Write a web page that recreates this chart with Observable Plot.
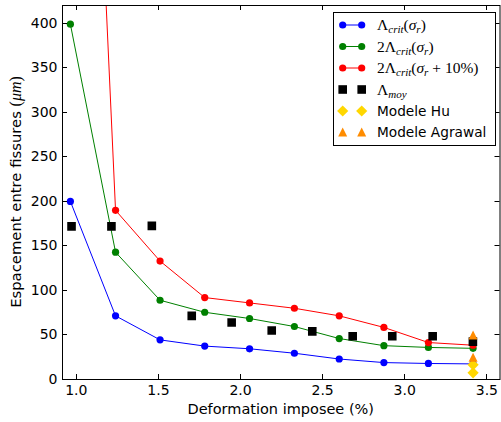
<!DOCTYPE html>
<html><head><meta charset="utf-8">
<script src="https://cdn.jsdelivr.net/npm/d3@7"></script>
<script src="https://cdn.jsdelivr.net/npm/@observablehq/plot@0.6"></script>
<style>
body{margin:0;background:#fff;}
#chart{width:501px;height:422px;}
</style></head><body><div id="chart"></div>
<script>
// ---- data ----
const xCrit = [0.964, 1.239, 1.51, 1.782, 2.055, 2.328, 2.601, 2.873, 3.144, 3.416];
const lambdaCrit = [200, 71.5, 44.5, 37.5, 34.5, 29.5, 23, 19, 18, 17.5];
const lambdaCrit2 = [399, 143, 89, 75.5, 68.5, 59.5, 46, 38, 36, 35];
const lambdaCrit2p10 = [1300, 190, 133, 92, 86, 80, 71.5, 58.5, 41.5, 38.5];
const xMoy = [0.971, 1.214, 1.46, 1.703, 1.946, 2.19, 2.437, 2.683, 2.924, 3.17, 3.415];
const lambdaMoy = [172, 172, 172.5, 71.5, 64, 55, 54, 48.5, 48.5, 48.5, 42.5];
const xModele = [3.416, 3.416];
const huValues = [16.5, 7.5];
const agrawalValues = [50, 25];
const xTicks = [1.0, 1.5, 2.0, 2.5, 3.0, 3.5];
const yTicks = [0, 50, 100, 150, 200, 250, 300, 350, 400];
const xLabel = "Deformation imposee (%)";
const yLabel = "Espacement entre fissures ";
const seriesNames = ["Λcrit(σr)", "2Λcrit(σr)", "2Λcrit(σr + 10%)", "Λmoy", "Modele Hu", "Modele Agrawal"];

const colBlue = "#0000ff", colGreen = "#008000", colRed = "#ff0000",
      colBlack = "#000000", colGold = "#ffd700", colOrange = "#ff8c00";

const toRows = (xs, ys) => xs.map((x, i) => ({x, y: ys[i]}));
const blue = toRows(xCrit, lambdaCrit);
const green = toRows(xCrit, lambdaCrit2);
const red = toRows(xCrit, lambdaCrit2p10);
const moy = toRows(xMoy, lambdaMoy);
const hu = toRows(xModele, huValues);
const agr = toRows(xModele, agrawalValues);

// custom matplotlib-like symbols (size = pi r^2)
const sq = {draw(c, s){ const r = Math.sqrt(s/Math.PI); c.rect(-r,-r,2*r,2*r); }};
const dia = {draw(c, s){ const r = Math.sqrt(s/Math.PI); c.moveTo(0,-r); c.lineTo(r,0); c.lineTo(0,r); c.lineTo(-r,0); c.closePath(); }};
const tri = {draw(c, s){ const r = Math.sqrt(s/Math.PI); c.moveTo(0,-r); c.lineTo(r,r); c.lineTo(-r,r); c.closePath(); }};

const FONT = "DejaVu Sans, sans-serif";

const plot = Plot.plot({
  width: 501, height: 422,
  marginLeft: 62, marginRight: 1.5, marginTop: 5, marginBottom: 43,
  style: {fontFamily: FONT, fontSize: "14px", color: "#000", background: "#fff"},
  x: {domain: [0.916, 3.58], ticks: xTicks, tickFormat: d3.format(".1f")},
  y: {domain: [0, 420], ticks: yTicks},
  marks: [
    Plot.line(blue, {x: "x", y: "y", stroke: colBlue, strokeWidth: 1, clip: true}),
    Plot.dot(blue, {x: "x", y: "y", fill: colBlue, r: 3.6, clip: true}),
    Plot.line(green, {x: "x", y: "y", stroke: colGreen, strokeWidth: 1, clip: true}),
    Plot.dot(green, {x: "x", y: "y", fill: colGreen, r: 3.6, clip: true}),
    Plot.line(red, {x: "x", y: "y", stroke: colRed, strokeWidth: 1, clip: true}),
    Plot.dot(red, {x: "x", y: "y", fill: colRed, r: 3.6, clip: true}),
    Plot.dot(moy, {x: "x", y: "y", fill: colBlack, symbol: sq, r: 4.3, clip: true}),
    Plot.dot(hu, {x: "x", y: "y", fill: colGold, symbol: dia, r: 5.6, clip: true}),
    Plot.dot(agr, {x: "x", y: "y", fill: colOrange, symbol: tri, r: 4.5, clip: true}),
    Plot.axisX({ticks: xTicks, tickSize: 0, tickPadding: 6, tickFormat: d3.format(".1f"), label: null}),
    Plot.axisY({ticks: yTicks, tickSize: 0, tickPadding: 5, label: null}),
    Plot.frame({stroke: "#000", strokeWidth: 1})
  ]
});
document.getElementById("chart").appendChild(plot);

const sx = plot.scale("x"), sy = plot.scale("y");
const svg = d3.select(plot);
const x0 = sx.apply(0.916), x1 = sx.apply(3.58), y0 = sy.apply(0), y1 = sy.apply(420);
const tk = svg.append("g").attr("stroke", "#000").attr("stroke-width", 1);
for (const t of xTicks) {
  const px = Math.round(sx.apply(t)) + 0.5;
  tk.append("line").attr("x1", px).attr("x2", px).attr("y1", y0).attr("y2", y0 - 5);
  tk.append("line").attr("x1", px).attr("x2", px).attr("y1", y1).attr("y2", y1 + 5);
}
for (const t of yTicks) {
  const py = Math.round(sy.apply(t)) + 0.5;
  tk.append("line").attr("y1", py).attr("y2", py).attr("x1", x0).attr("x2", x0 + 5);
  tk.append("line").attr("y1", py).attr("y2", py).attr("x1", x1).attr("x2", x1 - 5);
}

// axis labels
svg.append("text").attr("x", (x0 + x1) / 2).attr("y", 414).attr("text-anchor", "middle")
  .attr("font-family", FONT).attr("font-size", 14.5).text(xLabel);
const yl = svg.append("text").attr("transform", `translate(21,${(y0 + y1) / 2}) rotate(-90)`)
  .attr("text-anchor", "middle").attr("font-family", FONT).attr("font-size", 14.8);
yl.append("tspan").text(yLabel);
yl.append("tspan").attr("font-family", "Liberation Serif, serif").attr("font-size", 16).text("(");
yl.append("tspan").attr("font-family", "Liberation Serif, serif").attr("font-size", 16).attr("font-style", "italic").text("μm");
yl.append("tspan").attr("font-family", "Liberation Serif, serif").attr("font-size", 16).text(")");

// legend
const lg = svg.append("g").attr("text-anchor", "start");
lg.append("rect").attr("x", 333.5).attr("y", 12.5).attr("width", 162).attr("height", 133)
  .attr("fill", "#fff").attr("stroke", "#000").attr("stroke-width", 1);
const rowsY = [25, 46.5, 68, 89.5, 111, 132];
const mx = [342.7, 361.7], tx = 377;
const SERIF = "Liberation Serif, DejaVu Serif, serif";
const mathParts = [
  [["Λ"], ["crit", 1, 1], ["("], ["σ", 1], ["r", 1, 1], [")"]],
  [["2Λ"], ["crit", 1, 1], ["("], ["σ", 1], ["r", 1, 1], [")"]],
  [["2Λ"], ["crit", 1, 1], ["("], ["σ", 1], ["r", 1, 1], [" + 10%)"]],
  [["Λ"], ["moy", 1, 1]]
];
const specs = [
  {c: colBlue, line: true, sym: "circle"},
  {c: colGreen, line: true, sym: "circle"},
  {c: colRed, line: true, sym: "circle"},
  {c: colBlack, sym: "sq"},
  {c: colGold, sym: "dia"},
  {c: colOrange, sym: "tri"}
];
specs.forEach((s, i) => {
  const yy = rowsY[i];
  if (s.line) lg.append("line").attr("x1", mx[0]).attr("x2", mx[1]).attr("y1", yy).attr("y2", yy)
    .attr("stroke", s.c).attr("stroke-width", 1);
  for (const m of mx) {
    let p;
    if (s.sym === "circle") p = d3.symbol(d3.symbolCircle, Math.PI * 3.6 * 3.6)();
    else if (s.sym === "sq") p = d3.symbol(sq, Math.PI * 4.3 * 4.3)();
    else if (s.sym === "dia") p = d3.symbol(dia, Math.PI * 5.6 * 5.6)();
    else p = d3.symbol(tri, Math.PI * 4.5 * 4.5)();
    lg.append("path").attr("d", p).attr("transform", `translate(${m},${yy})`).attr("fill", s.c);
  }
  if (i < 4) {
    const t = lg.append("text").attr("x", tx).attr("y", yy + 5).attr("text-anchor", "start")
      .attr("font-family", SERIF).attr("font-size", 15.5);
    let shifted = false;
    for (const [txt, it, sub] of mathParts[i]) {
      const ts = t.append("tspan").text(txt);
      if (it) ts.attr("font-style", "italic");
      if (sub) {
        ts.attr("font-size", 11);
        if (!shifted) { ts.attr("dy", 3); shifted = true; }
      } else if (shifted) { ts.attr("dy", -3); shifted = false; }
    }
  } else {
    lg.append("text").attr("x", tx).attr("y", yy + 5).attr("text-anchor", "start")
      .attr("font-family", FONT).attr("font-size", 13.7).text(seriesNames[i]);
  }
});
</script>
</body></html>
